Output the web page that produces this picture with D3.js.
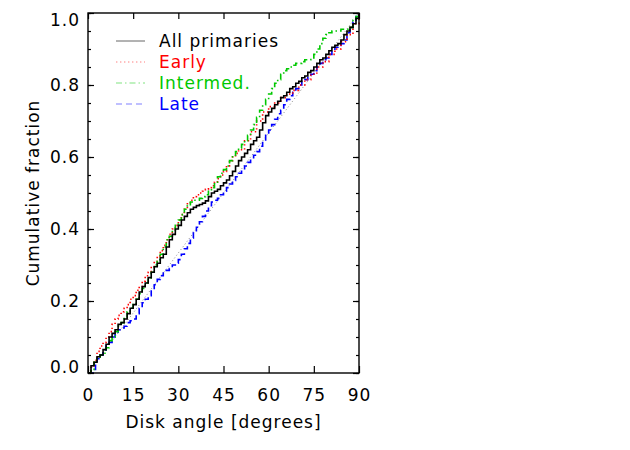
<!DOCTYPE html>
<html><head><meta charset="utf-8">
<script src="https://cdn.jsdelivr.net/npm/d3@7"></script>
<style>body{margin:0;background:#fff}svg{display:block}text{font-family:"DejaVu Sans",sans-serif;}</style>
</head><body>
<svg id="c" width="630" height="450"></svg>
<script>
// ---- data (angle in degrees, cumulative fraction) ----
const allAngle = [0,1,2,3,4,5,6,7,8,9,10,11,12,13,14,15,16,17,18,19,20,21,22,23,24,25,26,27,28,29,30,31,32,33,34,35,36,37,38,39,40,41,42,43,44,45,46,47,48,49,50,51,52,53,54,55,56,57,58,59,60,61,62,63,64,65,66,67,68,69,70,71,72,73,74,75,76,77,78,79,80,81,82,83,84,85,86,87,88,89,90];
const allFrac  = [0,0.02,0.03,0.045,0.05,0.065,0.08,0.1,0.11,0.12,0.135,0.14,0.15,0.165,0.18,0.19,0.205,0.225,0.24,0.25,0.265,0.28,0.295,0.305,0.32,0.33,0.35,0.37,0.385,0.4,0.41,0.425,0.435,0.445,0.455,0.46,0.465,0.468,0.472,0.478,0.49,0.5,0.505,0.51,0.52,0.528,0.536,0.548,0.56,0.575,0.59,0.6,0.61,0.62,0.635,0.645,0.655,0.675,0.695,0.715,0.725,0.735,0.745,0.755,0.765,0.77,0.78,0.79,0.795,0.805,0.81,0.82,0.825,0.835,0.84,0.85,0.86,0.87,0.875,0.885,0.895,0.905,0.91,0.915,0.925,0.94,0.95,0.96,0.97,0.985,1.0];

const earlyAngle = [0,1,2,3,4,5,6,7,8,9,10,11,12,13,14,15,16,17,18,19,20,21,22,23,24,25,26,27,28,29,30,31,32,33,34,35,36,37,38,39,40,41,42,43,44,45,46,47,48,49,50,52,54,56,58,60,62,64,66,68,70,72,74,76,78,80,82,84,86,88,90];
const earlyFrac  = [0,0.02,0.035,0.06,0.075,0.085,0.1,0.115,0.135,0.15,0.16,0.17,0.18,0.19,0.205,0.215,0.23,0.24,0.255,0.27,0.28,0.295,0.31,0.325,0.34,0.355,0.37,0.385,0.4,0.41,0.425,0.44,0.455,0.47,0.48,0.49,0.495,0.5,0.505,0.51,0.515,0.52,0.53,0.54,0.55,0.56,0.575,0.59,0.6,0.61,0.62,0.645,0.67,0.7,0.725,0.74,0.75,0.765,0.775,0.785,0.8,0.815,0.83,0.85,0.865,0.885,0.9,0.92,0.94,0.97,1.0];

const interAngle = [0,1,2,3,4,5,6,7,8,9,10,11,12,13,14,15,16,17,18,19,20,21,22,23,24,25,26,27,28,29,30,31,32,33,34,35,36,37,38,39,40,41,42,43,44,45,46,47,48,49,50,51,52,53,54,55,56,57,58,59,60,61,62,63,64,65,66,67,68,69,70,71,72,73,74,75,76,77,78,79,80,81,82,83,84,85,86,87,88,89,90];
const interFrac  = [0,0.01,0.03,0.04,0.05,0.055,0.07,0.09,0.1,0.115,0.13,0.14,0.155,0.17,0.18,0.19,0.205,0.22,0.235,0.25,0.26,0.28,0.3,0.315,0.33,0.35,0.37,0.38,0.395,0.41,0.425,0.44,0.455,0.465,0.475,0.48,0.48,0.485,0.49,0.495,0.505,0.515,0.53,0.545,0.555,0.565,0.575,0.59,0.605,0.615,0.625,0.635,0.645,0.66,0.675,0.69,0.71,0.73,0.745,0.76,0.775,0.79,0.805,0.815,0.83,0.84,0.845,0.85,0.855,0.86,0.86,0.865,0.87,0.87,0.875,0.885,0.9,0.915,0.93,0.94,0.945,0.95,0.95,0.95,0.955,0.955,0.955,0.96,0.98,0.99,1.0];

const lateAngle = [0,1,2,2.5,3,4,5,6,7,8,9,10,11,12,13,14,15,16,17,18,19,20,21,22,23,24,25,26,27,28,29,30,31,32,33,34,35,36,37,38,39,40,41,42,43,44,45,46,47,48,49,50,51,52,53,54,55,56,57,58,59,60,61,62,63,64,65,66,67,68,69,70,71,72,73,74,75,76,77,78,79,80,81,82,83,84,85,86,87,88,89,90];
const lateFrac  = [0,0,0.01,0.03,0.04,0.05,0.06,0.075,0.085,0.1,0.11,0.12,0.125,0.13,0.14,0.145,0.15,0.165,0.18,0.195,0.205,0.215,0.23,0.245,0.26,0.27,0.28,0.285,0.29,0.3,0.305,0.315,0.33,0.345,0.36,0.375,0.39,0.405,0.42,0.435,0.45,0.465,0.475,0.48,0.485,0.495,0.505,0.515,0.525,0.535,0.545,0.555,0.565,0.575,0.585,0.595,0.605,0.615,0.63,0.645,0.66,0.675,0.69,0.705,0.72,0.73,0.745,0.76,0.77,0.78,0.79,0.8,0.81,0.815,0.825,0.83,0.84,0.85,0.86,0.87,0.875,0.885,0.895,0.905,0.91,0.915,0.925,0.945,0.96,0.975,0.99,1.0];

const refAngle = [0,90];
const refFrac = [0,1];

const seriesNames = ["All primaries","Early","Intermed.","Late"];
const xTicks = [0,15,30,45,60,75,90];
const yTicks = [0,0.2,0.4,0.6,0.8,1.0];
const yMinor = d3.range(0,1.0001,0.05);
const xTitle = "Disk angle [degrees]";
const yTitle = "Cumulative fraction";

// ---- layout ----
const svg = d3.select("#c");
const L=88,R=359,T=13,B=373;
const x = d3.scaleLinear().domain([0,90]).range([L,R]);
const y = d3.scaleLinear().domain([0,1]).range([B,T]);
const FS = 17;

const styles = [
  {color:"#000000", dash:null, w:1.6, lw:1},
  {color:"#ff0000", dash:"1.4,2.6", w:1.6, lw:1},
  {color:"#00c800", dash:"6,3,1.5,3", w:1.6, lw:1},
  {color:"#0000ff", dash:"6,4", w:1.6, lw:1}
];
const data = [
  d3.zip(allAngle,allFrac),
  d3.zip(earlyAngle,earlyFrac),
  d3.zip(interAngle,interFrac),
  d3.zip(lateAngle,lateFrac)
];

// reference diagonal
svg.append("path").datum(d3.zip(refAngle,refFrac))
  .attr("d", d3.line().x(d=>x(d[0])).y(d=>y(d[1])))
  .attr("fill","none").attr("stroke","#888").attr("stroke-width",1).attr("stroke-dasharray","1,2.5");

const line = d3.line().x(d=>x(d[0])).y(d=>y(d[1])).curve(d3.curveStepAfter);
[3,1,2,0].forEach(i=>{
  svg.append("path").datum(data[i]).attr("d",line)
    .attr("fill","none").attr("stroke",styles[i].color).attr("stroke-width",styles[i].w)
    .attr("stroke-dasharray",styles[i].dash);
});

// axes
const gBottom = svg.append("g").attr("transform",`translate(0,${B})`)
  .call(d3.axisBottom(x).tickValues(xTicks).tickSizeInner(-7).tickSizeOuter(0).tickPadding(16).tickFormat(d3.format("d")));
const gTop = svg.append("g").attr("transform",`translate(0,${T})`)
  .call(d3.axisTop(x).tickValues(xTicks).tickSizeInner(-6).tickSizeOuter(0).tickFormat(""));
const gLeft = svg.append("g").attr("transform",`translate(${L},0)`)
  .call(d3.axisLeft(y).tickValues(yTicks).tickSizeInner(-6).tickSizeOuter(0).tickPadding(8).tickFormat(d3.format(".1f")));
const gLeftMinor = svg.append("g").attr("transform",`translate(${L},0)`)
  .call(d3.axisLeft(y).tickValues(yMinor).tickSizeInner(-3).tickSizeOuter(0).tickFormat(""));
const gRight = svg.append("g").attr("transform",`translate(${R},0)`)
  .call(d3.axisRight(y).tickValues(yTicks).tickSizeInner(-6).tickSizeOuter(0).tickFormat(""));
const gRightMinor = svg.append("g").attr("transform",`translate(${R},0)`)
  .call(d3.axisRight(y).tickValues(yMinor).tickSizeInner(-3).tickSizeOuter(0).tickFormat(""));
[gBottom,gTop,gLeft,gLeftMinor,gRight,gRightMinor].forEach(g=>{
  g.select(".domain").remove();
  g.selectAll("line").attr("stroke","#000").attr("stroke-width",1.2);
  g.selectAll("text").attr("font-size",FS).attr("font-family","DejaVu Sans").attr("letter-spacing","1px").attr("fill","#000");
});
gLeft.selectAll(".tick text").attr("dy",d=> d===0 ? "-0.05em" : (d===1 ? "0.72em" : "0.32em"));

svg.append("rect").attr("x",L).attr("y",T).attr("width",R-L).attr("height",B-T)
  .attr("fill","none").attr("stroke","#000").attr("stroke-width",1.4);

// titles
svg.append("text").attr("x",(L+R)/2).attr("y",428).attr("text-anchor","middle")
  .attr("font-size",FS).attr("letter-spacing","1px").text(xTitle);
svg.append("text").attr("transform",`translate(39,${(T+B)/2}) rotate(-90)`).attr("text-anchor","middle")
  .attr("font-size",FS).attr("letter-spacing","1px").text(yTitle);

// legend
const legRows = [41,62,83,104];
seriesNames.forEach((n,i)=>{
  svg.append("line").attr("x1",116).attr("x2",145).attr("y1",legRows[i]).attr("y2",legRows[i])
    .attr("stroke",styles[i].color).attr("stroke-width",styles[i].lw).attr("stroke-opacity",i===0?0.6:0.5)
    .attr("stroke-dasharray",styles[i].dash);
  svg.append("text").attr("x",159).attr("y",legRows[i]+6).attr("font-size",FS).attr("letter-spacing","1px")
    .attr("fill",styles[i].color).text(n);
});
</script>
</body></html>
